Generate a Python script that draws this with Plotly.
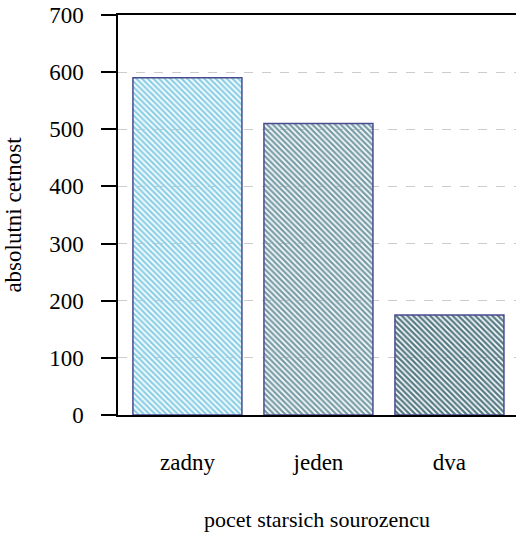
import plotly.graph_objects as go

categories = ["zadny", "jeden", "dva"]
counts = [590, 510, 175]
fill_colors = ["#8ed0e6", "#7a9ea8", "#577c86"]
y_ticks = [0, 100, 200, 300, 400, 500, 600, 700]

fig = go.Figure()
fig.add_trace(go.Bar(
    x=categories,
    y=counts,
    marker=dict(
        color=fill_colors,
        line=dict(color="#4b4b90", width=1.5),
        pattern=dict(shape="\\", fgcolor=fill_colors, bgcolor="white",
                     size=4, solidity=0.6, fillmode="replace"),
    ),
    showlegend=False,
))

font = "Liberation Serif"
fig.update_layout(
    width=516, height=535,
    margin=dict(l=118, r=0, t=15, b=120),
    paper_bgcolor="white", plot_bgcolor="white",
    font=dict(family=font, size=23, color="black"),
    bargap=0.168,
    xaxis=dict(
        range=[-0.53, 2.508],
        showline=True, linecolor="black", linewidth=1.5, mirror=True,
        ticks="", ticklabelstandoff=26,
        tickfont=dict(family=font, size=23),
        title=dict(text="pocet starsich sourozencu", standoff=37,
                   font=dict(family=font, size=22)),
        showgrid=False, zeroline=False,
    ),
    yaxis=dict(
        range=[0, 700],
        tickvals=y_ticks,
        showline=True, linecolor="black", linewidth=1.5,
        ticks="outside", ticklen=15, tickwidth=1.5, tickcolor="black",
        ticklabelstandoff=13,
        tickfont=dict(family=font, size=23),
        showgrid=True, gridcolor="#cccccc", griddash="dash", gridwidth=1,
        zeroline=False,
        title=dict(text="absolutni cetnost", standoff=21,
                   font=dict(family=font, size=23)),
    ),
)

fig.write_html("out.html",
               config={"displayModeBar": False},
               post_script="document.body.style.margin='0';document.body.style.padding='0';")
